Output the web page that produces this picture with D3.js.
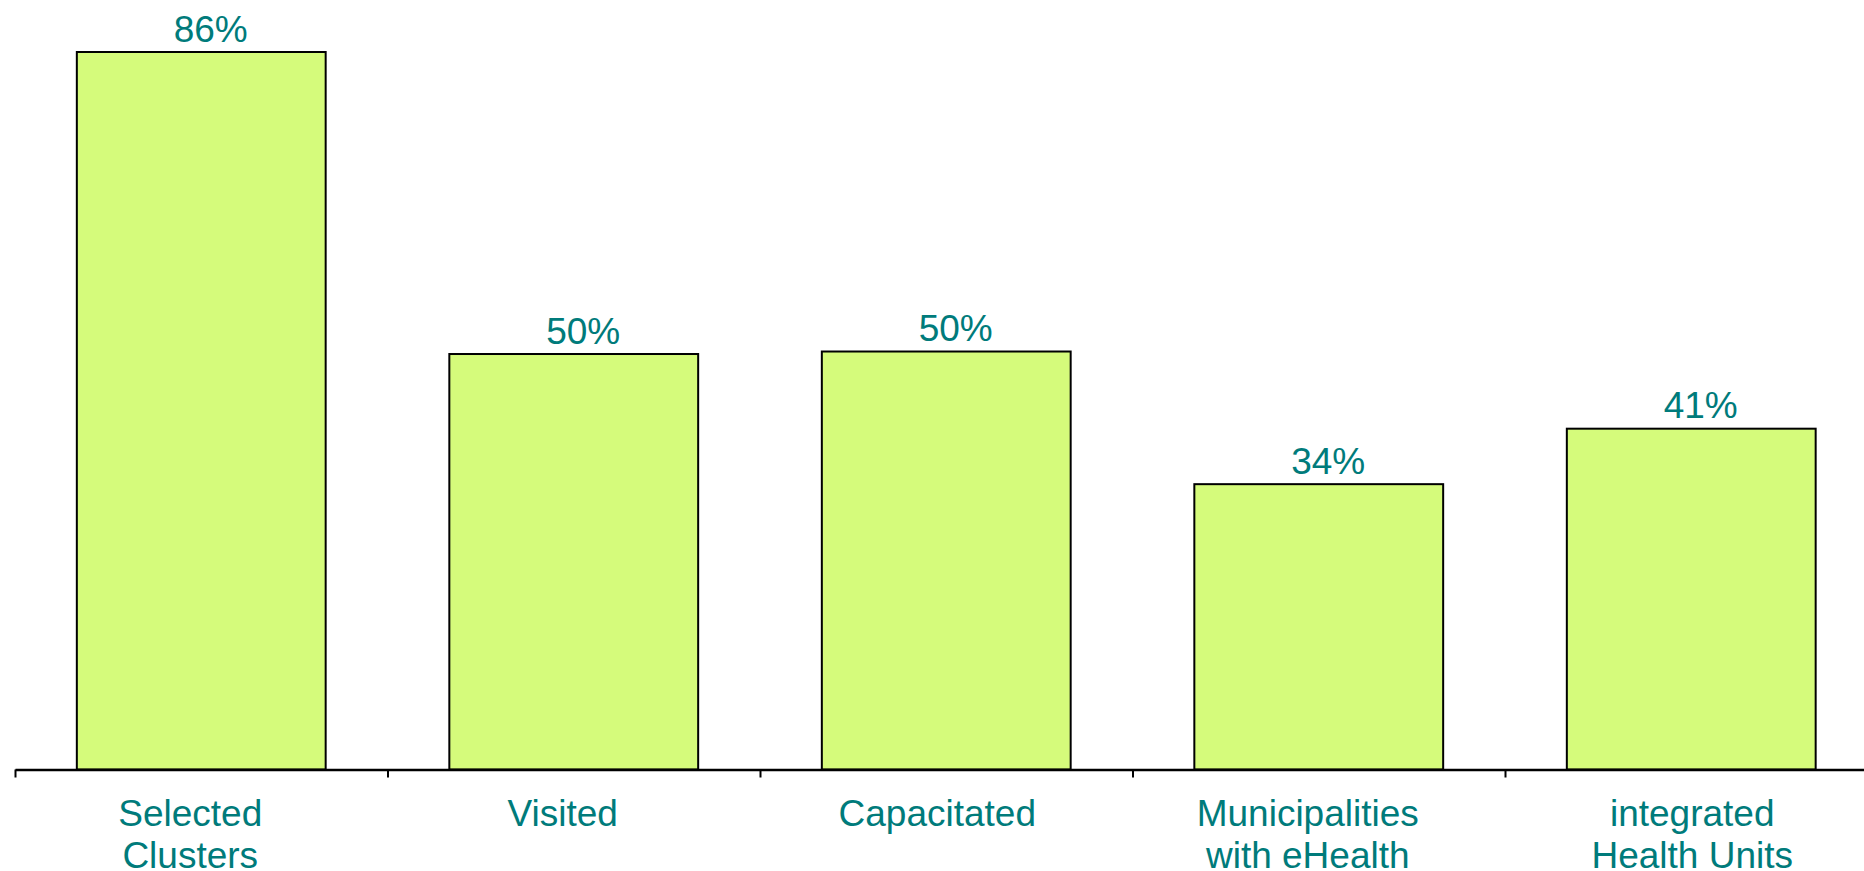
<!DOCTYPE html>
<html>
<head>
<meta charset="utf-8">
<script src="https://cdn.jsdelivr.net/npm/d3@7"></script>
<style>
  html, body { margin: 0; padding: 0; background: #fff; }
  svg { display: block; font-family: "Liberation Sans", Arial, sans-serif; }
</style>
</head>
<body>
<div id="chart"></div>
<script>
// data
const categories = ["Selected Clusters", "Visited", "Capacitated", "Municipalities with eHealth", "integrated Health Units"];
const labelLines = [["Selected", "Clusters"], ["Visited"], ["Capacitated"], ["Municipalities", "with eHealth"], ["integrated", "Health Units"]];
const values = [86, 49.8, 50.1, 34.2, 40.85];

const width = 1864, height = 871;
const textColor = "#007b7b";
// labels in the original are not quite centred on the bars
const valueDx = 9.5;
const catDx = [-11, -11, -9, -11, 1];

const svg = d3.select("#chart")
  .append("svg")
  .attr("width", width)
  .attr("height", height);

// band scale, bars centred in their band
const xScale = d3.scaleBand()
  .domain(categories)
  .range([15, 1877.5])
  .paddingInner(0.332)
  .paddingOuter(0.166);

const yScale = d3.scaleLinear()
  .domain([0, 86])
  .range([769.5, 52]);

const center = i => xScale(categories[i]) + xScale.bandwidth() / 2;

// bars
svg.selectAll(".bar")
  .data(values)
  .enter()
  .append("rect")
  .attr("class", "bar")
  .attr("x", (d, i) => xScale(categories[i]))
  .attr("y", d => yScale(d))
  .attr("width", xScale.bandwidth())
  .attr("height", d => yScale(0) - yScale(d))
  .attr("fill", "#d5fb7b")
  .attr("stroke", "#000")
  .attr("stroke-width", 2);

// value labels
svg.selectAll(".value")
  .data(values)
  .enter()
  .append("text")
  .attr("class", "value")
  .attr("x", (d, i) => center(i) + valueDx)
  .attr("y", d => yScale(d) - 10.5)
  .attr("text-anchor", "middle")
  .style("font-size", "37px")
  .style("fill", textColor)
  .text(d => d3.format(".0f")(d) + "%");

// x axis, ticks on band boundaries
const edgeScale = d3.scaleLinear()
  .domain([0, categories.length])
  .range(xScale.range());

const xAxis = d3.axisBottom(edgeScale)
  .tickValues(d3.range(categories.length))
  .tickSizeInner(8)
  .tickSizeOuter(0)
  .tickFormat("");

const axisG = svg.append("g")
  .attr("class", "x-axis")
  .attr("transform", `translate(0, ${yScale(0)})`)
  .call(xAxis);
axisG.select("path.domain").style("stroke", "#000").style("stroke-width", 2.5);
axisG.selectAll(".tick line").style("stroke", "#000").style("stroke-width", 2);

// category labels
const catText = svg.selectAll(".cat")
  .data(labelLines)
  .enter()
  .append("text")
  .attr("class", "cat")
  .attr("text-anchor", "middle")
  .style("font-size", "37px")
  .style("fill", textColor);

catText.selectAll("tspan")
  .data((lines, i) => lines.map(l => ({ l, i })))
  .enter()
  .append("tspan")
  .attr("x", d => center(d.i) + catDx[d.i])
  .attr("y", (d, j) => 826 + j * 41.5)
  .text(d => d.l);
</script>
</body>
</html>
